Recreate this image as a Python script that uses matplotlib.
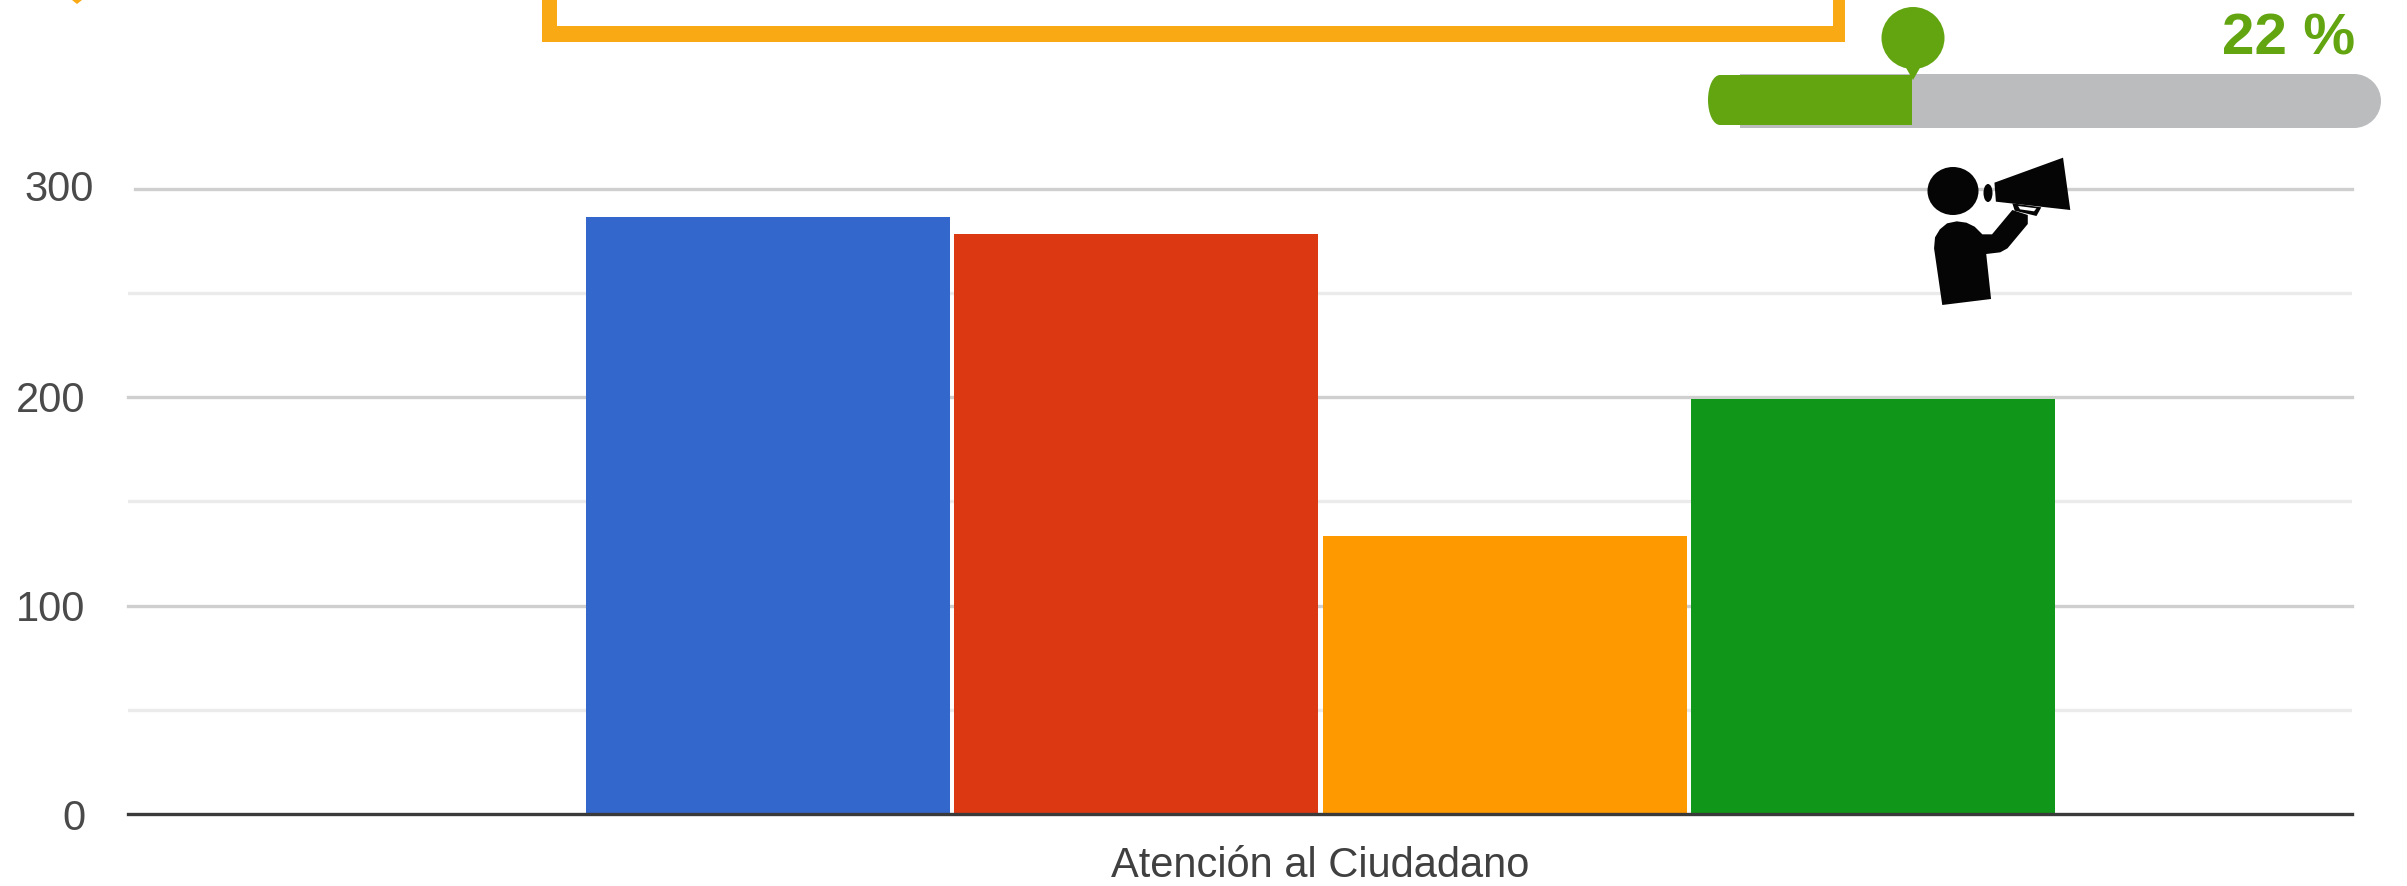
import matplotlib
matplotlib.use("Agg")
import matplotlib.pyplot as plt
from matplotlib.patches import Ellipse, Polygon, Rectangle
from matplotlib.transforms import ScaledTranslation

W, H = 2407, 886
category = "Atención al Ciudadano"
series_values = [286.5, 278, 133.5, 199]
series_colors = ["#3367CC", "#DC3912", "#FF9900", "#109618"]
major_ticks = [0, 100, 200, 300]
minor_ticks = [50, 150, 250]
progress_label = "22 %"

plt.rcParams["font.family"] = ["Liberation Sans", "DejaVu Sans"]
fig = plt.figure(figsize=(W / 100, H / 100), dpi=100, facecolor="white")

# Chart axes in pixels: left 128, right 2352, y=300 at 189, y=0 at 814
L, R, T, B = 128, 2352, 188.5, 814
ax = fig.add_axes([L / W, 1 - B / H, (R - L) / W, (B - T) / H])
step = 368.3
x0 = 768.0
ax.set_xlim((L - x0) / step, (R - x0) / step)
ax.set_ylim(0, 300)
ax.bar(range(len(series_values)), series_values, width=0.988, color=series_colors, zorder=3)
for v in minor_ticks:
    ax.axhline(v, color="#EBEBEB", lw=2.4, zorder=1)
for v in major_ticks[1:]:
    start = 7 / (R - L) if v == major_ticks[-1] else 0
    ax.axhline(v, xmin=start, color="#CFCFCF", lw=2.4, zorder=1, clip_on=False)
for s in ["top", "left", "right"]:
    ax.spines[s].set_visible(False)
ax.spines["bottom"].set_color("#3A3A3A")
ax.spines["bottom"].set_linewidth(2.4)
ax.spines["bottom"].set_zorder(4)
ax.set_yticks(major_ticks)
ax.set_xticks([(len(series_values) - 1) / 2])
ax.set_xticklabels([category])
ax.tick_params(axis="y", length=0, pad=30.5, labelsize=30, labelcolor="#4A4A4A")
ax.tick_params(axis="x", length=0, pad=23, labelsize=30, labelcolor="#404040")
# The top label sits slightly right of and above the others in the reference
top_label = ax.get_yticklabels()[-1]
top_label.set_transform(top_label.get_transform() + ScaledTranslation(8 / 100, 3 / 100, fig.dpi_scale_trans))
ax.patch.set_alpha(0)

# Decorative overlay in pixel coordinates
ov = fig.add_axes([0, 0, 1, 1], zorder=5)
ov.set_xlim(0, W)
ov.set_ylim(H, 0)
ov.axis("off")

ORANGE, GREEN, GREY = "#F9A914", "#62A510", "#BBBCBE"
ov.add_patch(Rectangle((542, 0), 15, 42, fc=ORANGE, ec="none"))
ov.add_patch(Rectangle((1833, 0), 12, 42, fc=ORANGE, ec="none"))
ov.add_patch(Rectangle((542, 26), 1303, 16, fc=ORANGE, ec="none"))
ov.add_patch(Polygon([(72, 0), (82, 0), (77, 4)], color=ORANGE, lw=0))

# Progress bar
ov.add_patch(Rectangle((1740, 74), 614, 54, fc=GREY, ec="none", zorder=1))
ov.add_patch(Ellipse((2354, 101), 54, 54, fc=GREY, ec="none", zorder=1))
ov.add_patch(Ellipse((1720, 100), 24, 50, fc=GREEN, ec="none", zorder=2))
ov.add_patch(Rectangle((1720, 75), 192, 50, fc=GREEN, ec="none", zorder=2))
ov.add_patch(Ellipse((1913, 38), 63, 62, fc=GREEN, ec="none", zorder=2))
ov.add_patch(Polygon([(1905, 66), (1921, 66), (1913, 80)], fc=GREEN, ec="none", zorder=2))
ov.text(2289, 54, progress_label, color=GREEN, fontsize=42, fontweight="bold",
        ha="center", va="baseline")


def px(points):
    return [(1650 + x / 2.07, y / 3) for x, y in points]


ICON = "#050505"
ov.add_patch(Ellipse((1953, 191), 51, 48, fc=ICON, ec="none"))
ov.add_patch(Ellipse((1988, 193), 9, 18, fc=ICON, ec="none"))
ov.add_patch(Polygon(px([(713, 548), (855, 473), (870, 630), (716, 605)]), fc=ICON, ec="none"))
ov.add_patch(Polygon(px([(750, 610), (810, 622), (800, 648), (755, 632)]), fc=ICON, ec="none"))
ov.add_patch(Polygon(px([(762, 618), (800, 625), (795, 634), (766, 628)]), fc="white", ec="none"))
ov.add_patch(Polygon(px([(605, 915), (706, 897), (696, 762), (725, 757), (740, 745), (782, 672),
                         (782, 645), (750, 630), (708, 703), (688, 703), (672, 680), (655, 668),
                         (635, 664), (615, 670), (600, 688), (590, 712), (588, 745)]),
                     fc=ICON, ec="none"))

fig.savefig("out.png", dpi=100, facecolor="white")
